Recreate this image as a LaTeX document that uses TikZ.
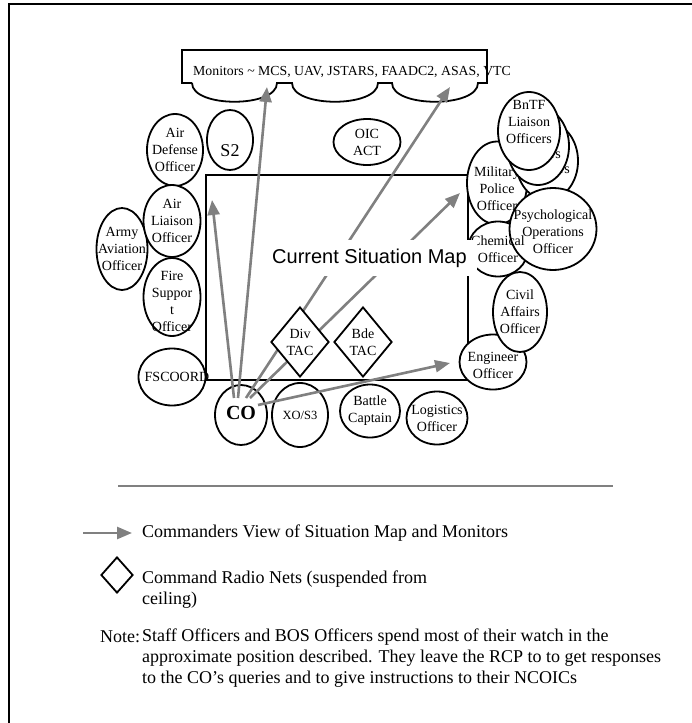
\documentclass[tikz,border=0pt]{standalone}
\usepackage{fontspec}
\setmainfont{Liberation Serif}
\newfontfamily\mapfont{Liberation Sans}
\usetikzlibrary{shapes.geometric,arrows.meta}

\tikzset{
	officer/.style={ellipse, draw, line width=1.8pt, fill=white, inner sep=0pt},
	officername/.style={font=\fontsize{14}{17}\selectfont, align=center, inner sep=0pt},
	radionet/.style={diamond, draw, line width=1.8pt, fill=white, inner sep=0pt},
	viewarrow/.style={draw=gray, line width=2.6pt, -{Triangle[length=15pt,width=12pt]}},
	legendtext/.style={font=\fontsize{18}{21}\selectfont, align=left, inner sep=0pt}
}

\begin{document}
\begin{tikzpicture}[x=1pt, y=-1pt]
	\useasboundingbox (0,0) rectangle (692,723);
	% Rahmen
	\draw[line width=1.8pt] (9,723) -- (9,4) -- (692,4);
	% Monitore
	\draw[line width=1.8pt] (192,83) -- (182,83) -- (182,50) -- (487,50) -- (487,83) -- (478,83)
		.. controls (478,108) and (392,108) .. (392,83) -- (378,83)
		.. controls (378,108) and (292,108) .. (292,83) -- (277,83)
		.. controls (277,108) and (192,108) .. (192,83);
	\node[anchor=west, inner sep=0pt, font=\fontsize{13.8}{16}\selectfont] (monitors) at (193,72)
		{Monitors \textasciitilde{} MCS, UAV, JSTARS, FAADC2, ASAS, VTC};
	% Lagekarte
	\node[draw, line width=1.8pt, minimum width=262pt, minimum height=205pt, inner sep=0pt] (map) at (337,277.5) {};
	% Offiziere links
	\node[officer, minimum width=51pt, minimum height=82pt, label={[officername]center:{Army\\Aviation\\Officer}}] (aviation) at (122,249) {};
	\node[officer, minimum width=56pt, minimum height=72pt, label={[officername]center:{Air\\Defense\\Officer}}] (airdefense) at (175,150) {};
	\node[officer, minimum width=57pt, minimum height=72pt, label={[officername]center:{Air\\Liaison\\Officer}}] (airliaison) at (172,221) {};
	\node[officer, minimum width=57pt, minimum height=78pt, label={[officername, yshift=-4pt]center:{Fire\\Suppor\\t\\Officer}}] (firesupport) at (172,297) {};
	\node[officer, minimum width=67pt, minimum height=57pt, label={[officername, xshift=5pt]center:{FSCOORD}}] (fscoord) at (172,377) {};
	% Offiziere oben
	\node[officer, minimum width=46pt, minimum height=60pt, label={[font=\fontsize{18}{21}\selectfont, yshift=-11pt]center:S2}] (s2) at (230,140) {};
	\node[officer, minimum width=67pt, minimum height=46pt, label={[officername]center:{OIC\\ACT}}] (oic) at (367,142) {};
	% Offiziere rechts
	\node[officer, minimum width=60pt, minimum height=83pt, label={[officername, yshift=-6pt]center:{Military\\Police\\Officer}}] (mp) at (497,183) {};
	\node[officer, minimum width=62pt, minimum height=78pt, label={[officername, yshift=9pt]center:{BnTF\\Liaison\\Officers}}] (bntfc) at (547,161) {};
	\node[officer, minimum width=62pt, minimum height=78pt, label={[officername, yshift=9pt]center:{BnTF\\Liaison\\Officers}}] (bntfb) at (538,146) {};
	\node[officer, minimum width=62pt, minimum height=78pt, label={[officername, yshift=9pt]center:{BnTF\\Liaison\\Officers}}] (bntfa) at (529,131) {};
	\node[officer, minimum width=60pt, minimum height=55pt] (chemical) at (498,249) {};
	\node[officer, minimum width=87pt, minimum height=82pt, label={[officername, yshift=-3pt]center:{Psychological\\Operations\\Officer}}] (psyops) at (553,229) {};
	\node[officername] (chemicaltext) at (chemical.center) {Chemical\\Officer};
	\node[officer, minimum width=67pt, minimum height=55pt, label={[officername, yshift=-3pt]center:{Engineer\\Officer}}] (engineer) at (493,362) {};
	\node[officer, minimum width=54pt, minimum height=80pt, label={[officername]center:{Civil\\Affairs\\Officer}}] (civil) at (520,312) {};
	% Offiziere unten
	\node[officer, minimum width=52pt, minimum height=60pt, label={[font=\bfseries\fontsize{20}{24}\selectfont, yshift=2pt]center:CO}] (co) at (241,415) {};
	\node[officer, minimum width=56pt, minimum height=64pt, label={[font=\fontsize{12.5}{15}\selectfont]center:XO/S3}] (xo) at (300,415) {};
	\node[officer, minimum width=60pt, minimum height=53pt, label={[officername]center:{Battle\\Captain}}] (battle) at (370,411) {};
	\node[officer, minimum width=61pt, minimum height=53pt, label={[officername]center:{Logistics\\Officer}}] (logistics) at (437,418) {};
	% Blickrichtungen des Kommandeurs
	\coordinate (mapcorner) at (212,200);
	\coordinate (monitorone) at (267,87);
	\coordinate (monitorthree) at (450,87);
	\coordinate (mpview) at (460,193);
	\coordinate (engview) at (450,363);
	\draw[viewarrow] ([shift={(-7,-17)}]co.center) -- (mapcorner);
	\draw[viewarrow] ([shift={(-3,-17)}]co.center) -- (monitorone);
	\draw[viewarrow] ([shift={(5,-17)}]co.center) -- (monitorthree);
	\draw[viewarrow] ([shift={(9,-17)}]co.center) -- (mpview);
	\draw[viewarrow] ([shift={(17,-10)}]co.center) -- (engview);
	% Funknetze
	\node[radionet, minimum width=58pt, minimum height=70pt, label={[officername]center:{Div\\TAC}}] (divtac) at (300,342) {};
	\node[radionet, minimum width=58pt, minimum height=70pt, label={[officername]center:{Bde\\TAC}}] (bdetac) at (363,342) {};
	\node[fill=white, inner sep=0pt, minimum width=215pt, minimum height=36pt, font=\mapfont\fontsize{20}{24}\selectfont] (maplabel) at (369.5,258) {Current Situation Map};
	% Legende
	\coordinate (sepleft) at (118,486);
	\coordinate (sepright) at (613,486);
	\draw[gray, line width=2pt] (sepleft) -- (sepright);
	\coordinate (legendstart) at (83,533);
	\coordinate (legendend) at (132,533);
	\draw[viewarrow] (legendstart) -- (legendend);
	\node[legendtext, anchor=west] (viewtext) at (142,533) {Commanders View of Situation Map and Monitors};
	\node[radionet, minimum width=32pt, minimum height=36pt] (legenddiamond) at (117,575) {};
	\node[legendtext, anchor=west] (nettext) at (142,590) {Command Radio Nets (suspended from\\ceiling)};
	\node[legendtext, anchor=west] (notelabel) at (100,637) {Note:};
	\node[legendtext, anchor=west] (notetext) at (142,658) {Staff Officers and BOS Officers spend most of their watch in the\\approximate position described.  They leave the RCP to to get responses\\to the CO's queries and to give instructions to their NCOICs};
\end{tikzpicture}
\end{document}
